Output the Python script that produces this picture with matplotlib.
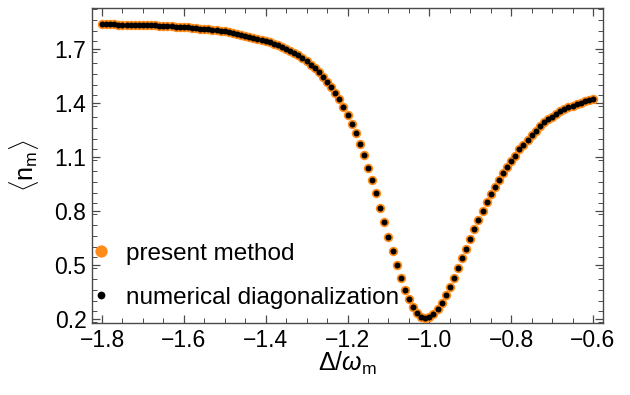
import matplotlib
matplotlib.use("Agg")
import matplotlib.pyplot as plt
import numpy as np
from matplotlib.ticker import MultipleLocator, FixedLocator

plt.rcParams['font.family'] = ['Liberation Sans', 'DejaVu Sans']
plt.rcParams['mathtext.fontset'] = 'custom'
plt.rcParams['mathtext.rm'] = 'Liberation Sans'
plt.rcParams['mathtext.it'] = 'Liberation Sans:italic'

# detuning values Delta/omega_m
delta = [
    -1.80, -1.79, -1.78, -1.77, -1.76, -1.75, -1.74, -1.73, -1.72, -1.71,
    -1.70, -1.69, -1.68, -1.67, -1.66, -1.65, -1.64, -1.63, -1.62, -1.61,
    -1.60, -1.59, -1.58, -1.57, -1.56, -1.55, -1.54, -1.53, -1.52, -1.51,
    -1.50, -1.49, -1.48, -1.47, -1.46, -1.45, -1.44, -1.43, -1.42, -1.41,
    -1.40, -1.39, -1.38, -1.37, -1.36, -1.35, -1.34, -1.33, -1.32, -1.31,
    -1.30, -1.29, -1.28, -1.27, -1.26, -1.25, -1.24, -1.23, -1.22, -1.21,
    -1.20, -1.19, -1.18, -1.17, -1.16, -1.15, -1.14, -1.13, -1.12, -1.11,
    -1.10, -1.09, -1.08, -1.07, -1.06, -1.05, -1.04, -1.03, -1.02, -1.01,
    -1.00, -0.99, -0.98, -0.97, -0.96, -0.95, -0.94, -0.93, -0.92, -0.91,
    -0.90, -0.89, -0.88, -0.87, -0.86, -0.85, -0.84, -0.83, -0.82, -0.81,
    -0.80, -0.79, -0.78, -0.77, -0.76, -0.75, -0.74, -0.73, -0.72, -0.71,
    -0.70, -0.69, -0.68, -0.67, -0.66, -0.65, -0.64, -0.63, -0.62, -0.61,
    -0.60,
]

# mean phonon number <n_m>, present method
n_present = [
    1.835, 1.835, 1.835, 1.835, 1.834, 1.834, 1.834, 1.833, 1.833, 1.832,
    1.832, 1.831, 1.830, 1.829, 1.828, 1.827, 1.826, 1.824, 1.823, 1.821,
    1.820, 1.818, 1.816, 1.814, 1.812, 1.810, 1.807, 1.805, 1.802, 1.799,
    1.796, 1.792, 1.787, 1.782, 1.777, 1.772, 1.767, 1.762, 1.756, 1.751,
    1.745, 1.737, 1.727, 1.718, 1.709, 1.699, 1.688, 1.677, 1.665, 1.650,
    1.632, 1.612, 1.591, 1.568, 1.543, 1.517, 1.488, 1.453, 1.418, 1.376,
    1.333, 1.282, 1.230, 1.172, 1.107, 1.038, 0.973, 0.896, 0.817, 0.735,
    0.654, 0.577, 0.500, 0.428, 0.360, 0.308, 0.267, 0.234, 0.212, 0.206,
    0.211, 0.226, 0.252, 0.287, 0.330, 0.378, 0.427, 0.481, 0.535, 0.589,
    0.644, 0.697, 0.748, 0.797, 0.847, 0.893, 0.933, 0.972, 1.008, 1.044,
    1.076, 1.106, 1.140, 1.164, 1.190, 1.222, 1.245, 1.268, 1.290, 1.308,
    1.322, 1.338, 1.352, 1.364, 1.374, 1.384, 1.394, 1.401, 1.408, 1.414,
    1.419,
]

# numerical diagonalization (coincides with the present method)
n_numerical = list(n_present)

x_ticks = [-1.8, -1.6, -1.4, -1.2, -1.0, -0.8, -0.6]
x_ticklabels = ["\u22121.8", "\u22121.6", "\u22121.4", "\u22121.2", "\u22121.0", "\u22120.8", "\u22120.6"]
y_ticks = [0.2, 0.5, 0.8, 1.1, 1.4, 1.7]
y_ticklabels = ["0.2", "0.5", "0.8", "1.1", "1.4", "1.7"]

ORANGE = '#FF8C1A'
FRAME = '#4a4a4a'

fig = plt.figure(figsize=(6.3, 3.95), dpi=100)
ax = fig.add_axes([92/630, 1-323/395, 511/630, 315/395])

ax.plot(delta, n_present, 'o', color=ORANGE, markersize=6.8, markeredgewidth=0,
        label='present method', zorder=3)
ax.plot(delta, n_numerical, 'o', color='black', markersize=4.3, markeredgewidth=0,
        label='numerical diagonalization', zorder=4)

ax.set_xlim(-1.8245, -0.5755)
ax.set_ylim(0.176, 1.926)

ax.xaxis.set_major_locator(FixedLocator(x_ticks))
ax.set_xticklabels(x_ticklabels)
ax.yaxis.set_major_locator(FixedLocator(y_ticks))
ax.set_yticklabels(y_ticklabels)
ax.xaxis.set_minor_locator(MultipleLocator(0.05))
ax.yaxis.set_minor_locator(MultipleLocator(0.06))

for s in ax.spines.values():
    s.set_color(FRAME)
    s.set_linewidth(1.0)
ax.tick_params(which='both', direction='in', top=True, right=True, color=FRAME,
               labelsize=16.5, labelcolor='black')
ax.tick_params(which='major', length=6, width=0.9, pad=4)
ax.tick_params(which='minor', length=3.5, width=0.7)

ax.set_xlabel(r'$\Delta/\omega_{\mathrm{m}}$', fontsize=18, labelpad=-1)
ax.set_ylabel(r'$\langle \mathrm{n}_{\mathrm{m}} \rangle$', fontsize=18, labelpad=10)

leg = ax.legend(loc='lower left', bbox_to_anchor=(0.004, 0.045), frameon=False,
                fontsize=17.5, handlelength=0.6, handletextpad=0.7,
                labelspacing=0.9, borderpad=0, borderaxespad=0, markerscale=1.3)

fig.savefig('out.png', dpi=100)
